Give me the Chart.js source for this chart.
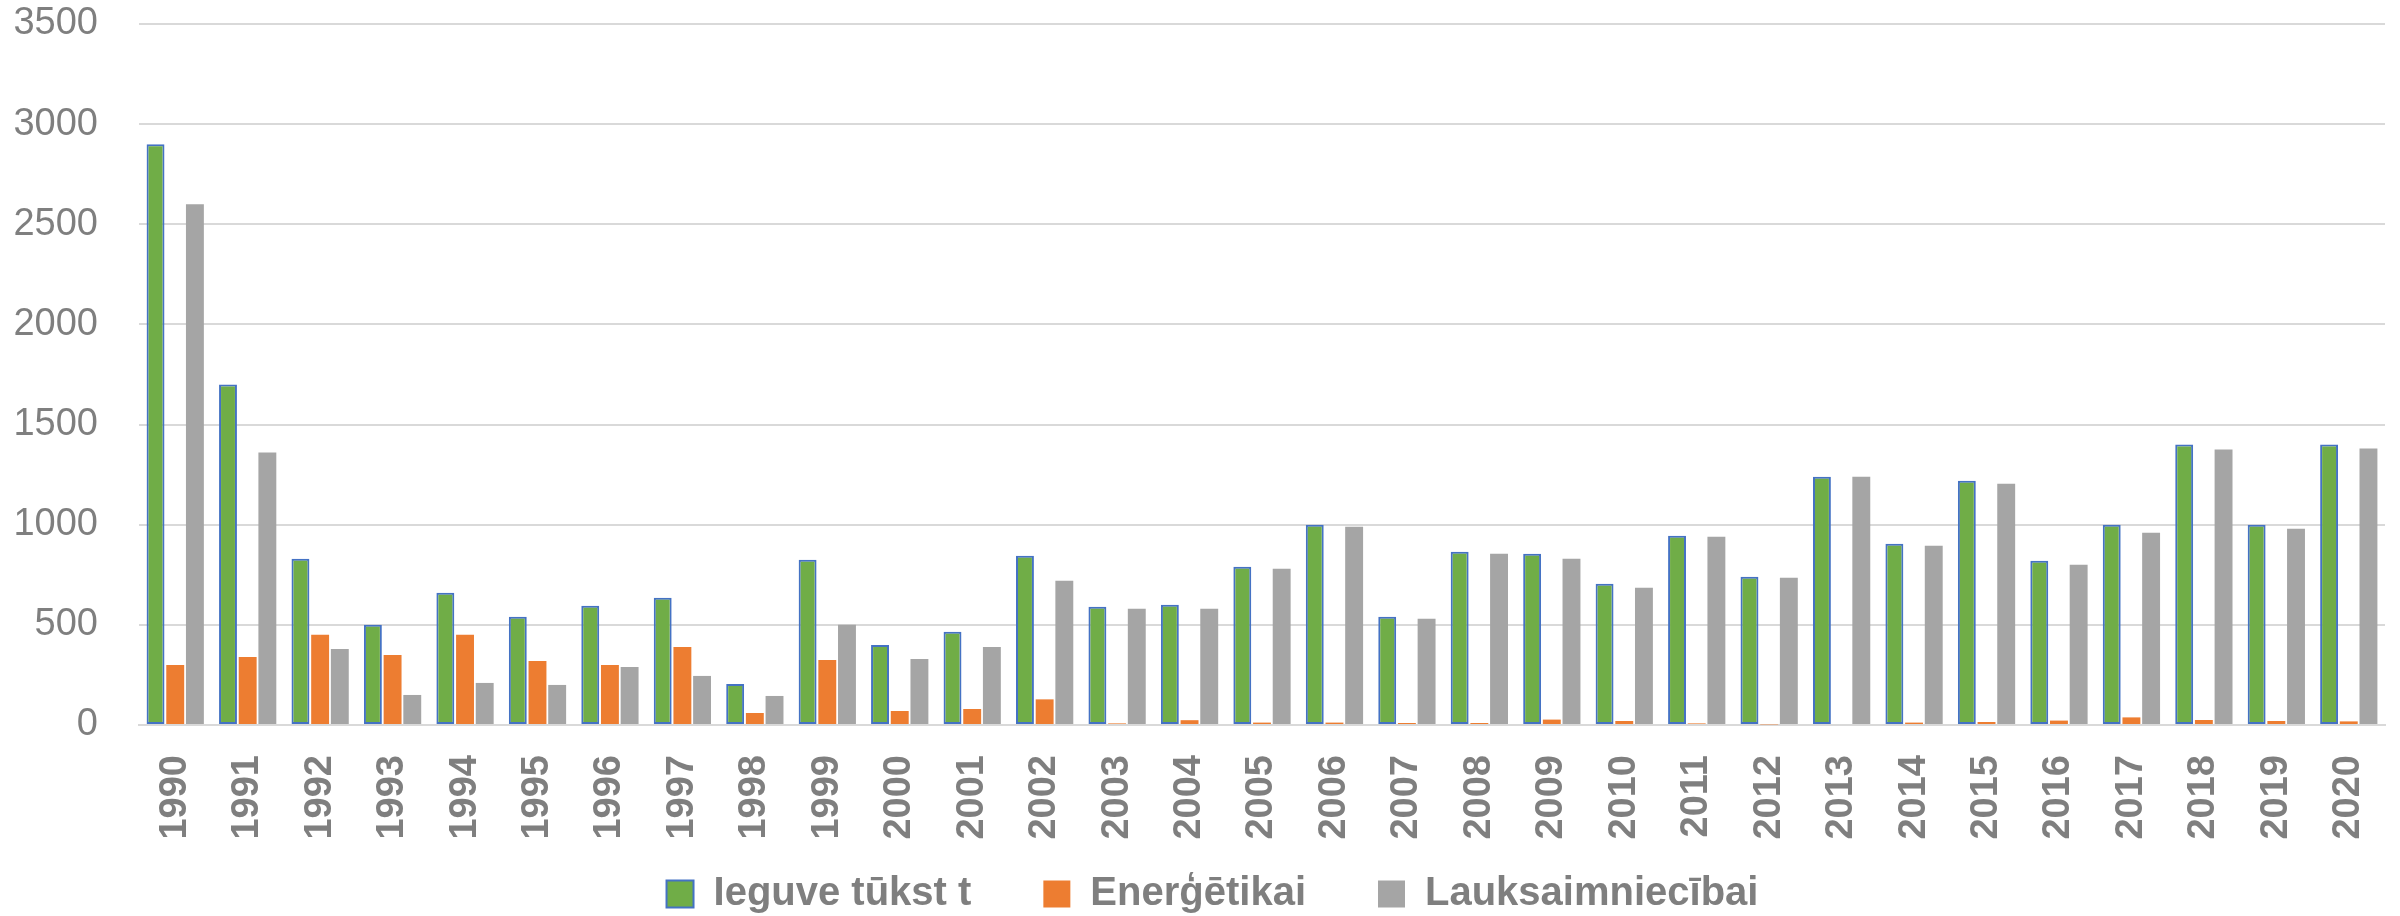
<!DOCTYPE html>
<html lang="lv">
<head>
<meta charset="utf-8">
<title>Ieguve</title>
<script src="https://cdn.jsdelivr.net/npm/chart.js@4.4.1/dist/chart.umd.min.js"></script>
<style>
    body { margin: 0; background: #ffffff; }
    #wrap { width: 2400px; height: 916px; }
</style>
</head>
<body>
<div id="wrap"><canvas id="grafiks"></canvas></div>
<script>
const gadi = ['1990', '1991', '1992', '1993', '1994', '1995', '1996', '1997', '1998', '1999',
    '2000', '2001', '2002', '2003', '2004', '2005', '2006', '2007', '2008', '2009',
    '2010', '2011', '2012', '2013', '2014', '2015', '2016', '2017', '2018', '2019', '2020'];

const ieguve = [2900, 1700, 830, 500, 660, 540, 595, 635, 205, 825,
    400, 465, 845, 590, 600, 790, 1000, 540, 865, 855,
    705, 945, 740, 1240, 905, 1220, 820, 1000, 1400, 1000, 1400];

const energetikai = [300, 340, 450, 350, 450, 320, 300, 390, 60, 325,
    70, 80, 128, 8, 24, 12, 12, 10, 10, 27,
    20, 8, 3, 0, 12, 15, 22, 38, 25, 20, 18];

const lauksaimniecibai = [2600, 1360, 380, 150, 210, 200, 290, 245, 145, 500,
    330, 390, 720, 580, 580, 780, 990, 530, 855, 830,
    685, 940, 735, 1240, 895, 1205, 800, 960, 1375, 980, 1380];

const yTicks = [0, 500, 1000, 1500, 2000, 2500, 3000, 3500];

const pelecigs = '#7f7f7f';

// leģendu pabīda uz vietu (vertikālā atstarpe nav atkarīga no labels.padding)
const legendasVieta = {
    id: 'legendasVieta',
    afterLayout: function (chart) {
        const lg = chart.legend;
        const h = lg.bottom - lg.top;
        lg.top = 802;
        lg.bottom = 802 + h;
        lg.left += 15;
        lg.right += 15;
    }
};

function plotarGrafiks() {
    const dati = {
        labels: gadi,
        datasets: [{
            label: 'Ieguve tūkst t',
            data: ieguve,
            backgroundColor: '#70ad47',
            borderColor: '#4472c4',
            borderWidth: 2,
            borderSkipped: false
        },
        {
            label: 'Enerģētikai',
            data: energetikai,
            backgroundColor: '#ed7d31',
            borderColor: '#ed7d31',
            borderWidth: 0
        },
        {
            label: 'Lauksaimniecībai',
            data: lauksaimniecibai,
            backgroundColor: '#a5a5a5',
            borderColor: '#a5a5a5',
            borderWidth: 0
        }]
    };

    const config = {
        type: 'bar',
        data: dati,
        options: {
            responsive: true,
            maintainAspectRatio: false,
            animation: false,
            categoryPercentage: 0.815,
            barPercentage: 0.91,
            layout: {
                padding: { left: 10, right: 15, top: 24, bottom: -51 }
            },
            plugins: {
                tooltip: { enabled: false },
                legend: {
                    position: 'bottom',
                    labels: {
                        boxWidth: 27,
                        boxHeight: 27,
                        padding: 72,
                        color: pelecigs,
                        font: { family: 'Liberation Sans', size: 40, weight: 'bold' }
                    }
                }
            },
            scales: {
                x: {
                    grid: {
                        display: true,
                        drawOnChartArea: false,
                        drawTicks: true,
                        tickLength: 30,
                        tickColor: 'rgba(0,0,0,0)'
                    },
                    border: { display: true, color: '#d9d9d9', width: 2 },
                    ticks: {
                        minRotation: 90,
                        maxRotation: 90,
                        autoSkip: false,
                        padding: 0,
                        color: pelecigs,
                        font: { family: 'Liberation Sans', size: 38, weight: 'bold' }
                    },
                    afterFit: function (axis) {
                        axis.height = 120;
                    }
                },
                y: {
                    min: 0,
                    max: 3500,
                    grid: {
                        color: '#d9d9d9',
                        lineWidth: 2,
                        drawTicks: true,
                        tickLength: 41,
                        tickColor: 'rgba(0,0,0,0)'
                    },
                    border: { display: false },
                    ticks: {
                        stepSize: 500,
                        padding: 0,
                        color: pelecigs,
                        font: { family: 'Liberation Sans', size: 38 },
                        callback: function (value) {
                            return String(value);
                        }
                    },
                    afterBuildTicks: function (axis) {
                        axis.ticks = yTicks.map(v => ({ value: v }));
                    },
                    afterFit: function (axis) {
                        axis.width = 129;
                    }
                }
            }
        },
        plugins: [legendasVieta]
    };

    // gatavs grafiks
    let grafiks = new Chart(document.getElementById('grafiks'), config);
}

plotarGrafiks();
</script>
</body>
</html>
